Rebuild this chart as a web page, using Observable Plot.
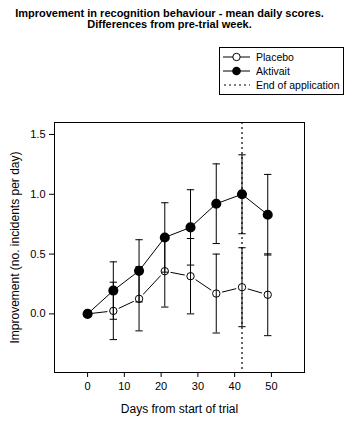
<!DOCTYPE html>
<html>
<head>
<meta charset="utf-8">
<script src="https://cdn.jsdelivr.net/npm/d3@7"></script>
<script src="https://cdn.jsdelivr.net/npm/@observablehq/plot@0.6"></script>
<style>
  html, body { margin: 0; padding: 0; background: white; }
  #wrap { position: relative; width: 354px; height: 422px; font-family: "Liberation Sans", Arial, sans-serif; color: black; }
  #title { position: absolute; left: 0; top: 8px; width: 339px; text-align: center; font-weight: bold; font-size: 11px; line-height: 11px; white-space: nowrap; }
  #legend { position: absolute; left: 219px; top: 47px; width: 123px; height: 46px; border: 1px solid black; background: white; font-size: 10.5px; }
  .item { position: absolute; left: 3px; height: 14px; display: flex; align-items: center; white-space: nowrap; }
  .item svg { display: block; flex: none; }
  .item span { margin-left: 6px; line-height: 14px; white-space: nowrap; }
  #chart { position: absolute; left: 0; top: 0; }
</style>
</head>
<body>
<div id="wrap">
  <div id="chart"></div>
  <div id="title">Improvement in recognition behaviour - mean daily scores.<br>Differences from pre-trial week.</div>
  <div id="legend"></div>
</div>
<script>
// ---- data ----
const days = [0, 7, 14, 21, 28, 35, 42, 49];
const placebo = [0.0, 0.025, 0.126, 0.357, 0.315, 0.17, 0.223, 0.16];
const placeboErr = [null, 0.24, 0.268, 0.30, 0.315, 0.33, 0.33, 0.342];
const aktivait = [0.0, 0.195, 0.36, 0.639, 0.723, 0.921, 1.0, 0.829];
const aktivaitErr = [null, 0.24, 0.26, 0.29, 0.315, 0.333, 0.33, 0.337];
const endOfApplication = [42];
const xTicks = [0, 10, 20, 30, 40, 50];
const yTicks = [0, 0.5, 1.0, 1.5];
const seriesNames = ["Placebo", "Aktivait", "End of application"];

// ---- tables built from the arrays ----
const placeboRows = days.map((d, i) => ({day: d, v: placebo[i], e: placeboErr[i]}));
const aktRows = days.map((d, i) => ({day: d, v: aktivait[i], e: aktivaitErr[i]}));
const errRows = [...placeboRows, ...aktRows].filter(r => r.e != null);
const capRows = errRows.flatMap(r => [{day: r.day, y: r.v + r.e}, {day: r.day, y: r.v - r.e}]);
const capHalf = 1.0; // in days

const chart = Plot.plot({
  width: 354,
  height: 422,
  marginLeft: 54,
  marginTop: 122,
  marginRight: 50,
  marginBottom: 50,
  x: {domain: [-9, 59]},
  y: {domain: [-0.49, 1.6]},
  style: {fontFamily: '"Liberation Sans", Arial, sans-serif', fontSize: "11px", color: "black", background: "transparent", overflow: "visible"},
  marks: [
    Plot.frame({stroke: "black", strokeWidth: 1}),
    Plot.axisX({ticks: xTicks, tickSize: 5, tickPadding: 5, tickFormat: d => String(d), label: null, fontSize: 11}),
    Plot.axisY({ticks: yTicks, tickSize: 5, tickPadding: 4, tickFormat: d => d.toFixed(1), label: null, fontSize: 11}),
    Plot.axisX({ticks: [], tickSize: 0, label: "Days from start of trial", labelAnchor: "center", labelOffset: 40, labelArrow: "none", fontSize: 12}),
    Plot.axisY({ticks: [], tickSize: 0, label: "Improvement (no. incidents per day)", labelAnchor: "center", labelOffset: 44, labelArrow: "none", fontSize: 12}),
    Plot.ruleX(endOfApplication, {stroke: "black", strokeWidth: 1.2, strokeDasharray: "2,3"}),
    Plot.line(placeboRows, {x: "day", y: "v", stroke: "black", strokeWidth: 1}),
    Plot.line(aktRows, {x: "day", y: "v", stroke: "black", strokeWidth: 1}),
    Plot.dot(placeboRows.filter(r => r.day > 0), {x: "day", y: "v", r: 6, fill: "white", stroke: null}),
    Plot.dot(placeboRows, {x: "day", y: "v", r: 3.7, fill: "white", stroke: "black", strokeWidth: 1}),
    Plot.dot(aktRows, {x: "day", y: "v", r: 4.3, fill: "black", stroke: "black"}),
    Plot.ruleX(errRows, {x: "day", y1: r => r.v - r.e, y2: r => r.v + r.e, stroke: "black", strokeWidth: 1}),
    Plot.link(capRows, {x1: r => r.day - capHalf, x2: r => r.day + capHalf, y1: "y", y2: "y", stroke: "black", strokeWidth: 1})
  ]
});
document.getElementById("chart").appendChild(chart);

// ---- legend ----
const legend = document.getElementById("legend");
const symbols = [
  `<svg width="27" height="10"><line x1="0" y1="5" x2="27" y2="5" stroke="black"/><circle cx="13.5" cy="5" r="3.7" fill="white" stroke="black"/></svg>`,
  `<svg width="27" height="10"><line x1="0" y1="5" x2="27" y2="5" stroke="black"/><circle cx="13.5" cy="5" r="4.3" fill="black"/></svg>`,
  `<svg width="27" height="10"><line x1="1" y1="5" x2="27" y2="5" stroke="black" stroke-width="1.2" stroke-dasharray="2,3"/></svg>`
];
seriesNames.forEach((name, i) => {
  const div = document.createElement("div");
  div.className = "item";
  div.style.top = (2 + i * 14) + "px";
  div.innerHTML = symbols[i] + `<span>${name}</span>`;
  legend.appendChild(div);
});
</script>
</body>
</html>
